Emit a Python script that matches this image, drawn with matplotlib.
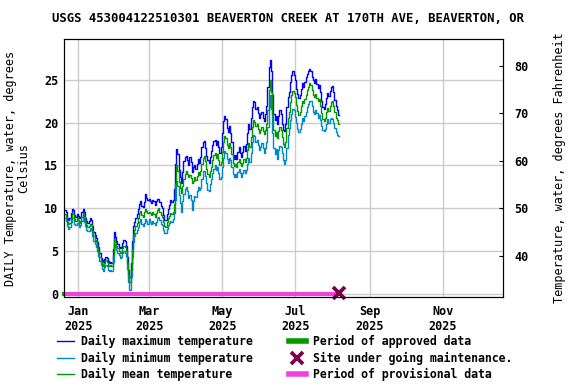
import matplotlib
matplotlib.use('Agg')
import matplotlib.pyplot as plt
import numpy as np
import pandas as pd
from matplotlib.lines import Line2D

plt.rcParams['font.family'] = ['DejaVu Sans Mono']
plt.rcParams['font.weight'] = 'bold'

# Daily water temperature (deg C), Dec 21 2024 .. Aug 6 2025
mean_dec = [9.3, 9.0, 8.4, 8.1, 8.3, 8.9, 9.4, 9.3, 8.7, 8.5, 8.8]
mean_jan = [8.6, 8.3, 8.5, 9.0, 9.4, 9.0, 8.4, 8.0, 7.8, 7.9, 8.2, 8.0, 7.3, 6.7, 6.3, 6.0,
            5.5, 4.9, 4.3, 3.8, 3.5, 3.2, 3.6, 3.9, 3.7, 3.3, 3.2, 3.3, 3.2, 4.5, 6.4]
mean_feb = [6.0, 5.6, 5.3, 5.0, 4.8, 4.9, 5.3, 5.6, 5.4, 5.0, 3.6, 2.2, 1.3, 2.8, 5.2, 6.8,
            7.5, 7.9, 8.3, 8.8, 9.4, 9.7, 9.2, 9.0, 9.5, 9.9, 9.7, 9.4]
mean_mar = [9.6, 9.4, 9.2, 9.5, 9.3, 9.0, 9.4, 9.8, 10.0, 9.6, 9.2, 9.0, 8.4, 7.9, 7.8, 8.4,
            8.8, 9.1, 9.4, 9.3, 9.6, 10.5, 12.8, 15.0, 14.4, 13.1, 12.4, 11.8, 12.6, 13.4, 14.0]
mean_apr = [14.4, 14.0, 13.6, 13.9, 13.5, 12.9, 13.2, 13.6, 13.3, 13.8, 14.2, 13.9, 14.3, 15.2,
            15.9, 16.1, 15.5, 14.6, 14.0, 13.7, 14.3, 14.8, 15.6, 16.2, 16.5, 15.9, 16.3, 15.6,
            15.1, 15.4]
mean_may = [16.6, 17.8, 18.5, 18.2, 17.4, 17.0, 17.6, 17.1, 16.3, 15.3, 14.9, 15.2, 14.8, 15.4,
            15.8, 15.3, 14.9, 15.3, 15.8, 15.4, 15.9, 16.8, 17.6, 17.2, 18.3, 19.5, 20.3, 20.1,
            19.6, 19.9, 19.3]
mean_jun = [18.8, 19.2, 19.5, 19.0, 18.7, 19.2, 19.8, 21.5, 23.8, 25.0, 23.6, 21.0, 19.2, 18.5,
            18.9, 18.2, 19.0, 19.5, 19.2, 18.3, 17.5, 17.2, 17.8, 19.4, 20.6, 21.3, 22.4, 23.2,
            23.7, 23.5]
mean_jul = [23.0, 22.1, 21.4, 20.9, 21.3, 21.9, 22.6, 22.3, 22.8, 23.3, 23.8, 24.2, 24.6, 24.4,
            23.8, 23.3, 23.0, 23.4, 22.9, 22.5, 22.8, 22.0, 21.1, 20.4, 20.2, 20.6, 21.2, 21.7,
            21.4, 21.9, 22.4]
mean_aug = [22.6, 22.0, 21.2, 20.6, 20.3, 19.9]

max_dec = [9.8, 9.5, 8.9, 8.6, 8.8, 9.4, 9.9, 9.8, 9.2, 9.0, 9.3]
max_jan = [9.1, 8.8, 9.0, 9.5, 9.9, 9.6, 8.9, 8.5, 8.3, 8.5, 8.8, 8.6, 7.9, 7.2, 6.8, 6.5,
           6.0, 5.4, 4.8, 4.2, 3.9, 3.7, 4.1, 4.3, 4.2, 3.8, 3.6, 3.7, 3.6, 5.2, 7.2]
max_feb = [6.6, 6.1, 5.8, 5.5, 5.3, 5.5, 5.9, 6.3, 6.1, 5.6, 4.3, 2.8, 1.9, 3.6, 6.2, 7.9,
           8.4, 8.9, 9.3, 9.9, 10.5, 10.8, 10.3, 10.1, 10.7, 11.7, 11.2, 10.9]
max_mar = [11.1, 10.8, 10.6, 11.0, 10.8, 10.4, 10.8, 11.1, 11.1, 10.7, 10.3, 10.0, 9.2, 8.6,
           8.6, 9.3, 9.9, 10.4, 10.9, 10.7, 11.0, 12.2, 15.2, 16.9, 16.3, 14.5, 13.6, 12.9,
           14.2, 15.5, 16.0]
max_apr = [16.1, 15.6, 15.0, 16.0, 15.4, 14.2, 14.8, 15.0, 14.6, 15.2, 15.7, 15.3, 16.0, 17.2,
           17.8, 17.9, 17.0, 16.1, 15.6, 15.3, 16.0, 16.7, 17.4, 17.9, 18.0, 17.4, 17.9, 17.2,
           16.5, 17.1]
max_may = [18.8, 20.2, 20.8, 20.4, 19.4, 18.9, 19.6, 18.8, 17.7, 16.2, 15.7, 16.2, 15.7, 16.6,
           17.1, 16.5, 16.0, 16.6, 17.3, 16.7, 17.5, 18.8, 19.9, 19.3, 20.6, 21.8, 22.6, 22.4,
           21.6, 21.8, 21.1]
max_jun = [20.5, 21.0, 21.3, 20.6, 20.2, 21.0, 22.0, 24.2, 26.5, 27.4, 26.0, 23.2, 21.0, 20.3,
           20.8, 19.9, 20.8, 21.5, 21.0, 19.9, 19.2, 19.0, 19.8, 21.8, 23.0, 23.6, 24.8, 25.6,
           26.0, 25.6]
max_jul = [25.0, 24.0, 23.4, 22.9, 23.3, 23.9, 24.6, 24.2, 24.8, 25.3, 25.7, 26.0, 26.3, 26.1,
           25.4, 25.0, 24.6, 25.1, 24.5, 24.1, 24.4, 23.6, 22.6, 21.8, 21.6, 22.2, 22.9, 23.5,
           23.1, 23.7, 24.2]
max_aug = [24.3, 23.6, 22.7, 21.9, 21.5, 20.9]

min_dec = [8.8, 8.5, 7.9, 7.6, 7.8, 8.4, 8.9, 8.8, 8.2, 8.0, 8.3]
min_jan = [8.1, 7.8, 8.0, 8.5, 8.9, 8.4, 7.9, 7.5, 7.3, 7.3, 7.7, 7.4, 6.7, 6.1, 5.8, 5.5,
           5.0, 4.4, 3.8, 3.3, 2.9, 2.7, 3.1, 3.4, 3.2, 2.8, 2.6, 2.8, 2.7, 3.7, 5.8]
min_feb = [5.4, 5.1, 4.7, 4.5, 4.2, 4.3, 4.7, 5.0, 4.8, 4.4, 2.9, 1.4, 0.4, 1.9, 4.3, 6.0,
           6.7, 7.1, 7.5, 7.8, 8.4, 8.7, 8.2, 7.9, 8.3, 8.7, 8.5, 8.2]
min_mar = [8.7, 8.4, 8.2, 8.5, 8.3, 8.0, 8.4, 8.8, 9.0, 8.6, 8.2, 8.0, 7.5, 7.1, 7.1, 7.6,
           8.0, 8.3, 8.5, 8.4, 8.7, 9.4, 11.0, 13.2, 12.6, 11.5, 10.6, 9.5, 10.8, 11.6, 12.2]
min_apr = [12.5, 12.0, 11.2, 11.5, 11.0, 9.8, 10.8, 11.4, 11.3, 12.0, 12.5, 12.1, 12.4, 13.4,
           14.3, 14.4, 13.8, 12.9, 12.1, 12.0, 12.8, 13.4, 14.1, 14.6, 15.1, 14.5, 14.8, 14.1,
           13.4, 13.6]
min_may = [14.8, 15.9, 16.7, 16.4, 15.8, 15.3, 15.9, 15.6, 14.8, 14.0, 13.7, 14.0, 13.6, 14.2,
           14.6, 14.1, 13.7, 14.1, 14.5, 14.1, 14.5, 15.2, 15.9, 15.4, 16.5, 17.7, 18.6, 18.5,
           17.7, 18.0, 17.4]
min_jun = [16.8, 17.2, 17.6, 17.0, 16.4, 17.0, 17.7, 19.5, 21.8, 23.3, 21.6, 18.8, 17.0, 16.3,
           16.9, 15.7, 16.8, 17.3, 17.2, 16.4, 15.6, 15.2, 15.6, 17.0, 18.6, 19.4, 20.3, 21.0,
           21.6, 21.5]
min_jul = [20.7, 20.0, 19.3, 18.9, 19.3, 19.8, 20.5, 20.2, 20.8, 21.3, 21.8, 22.2, 22.6, 22.5,
           21.9, 21.3, 21.0, 21.5, 21.1, 20.5, 20.9, 20.3, 19.6, 19.1, 19.0, 19.3, 19.9, 20.4,
           20.0, 20.4, 20.6]
min_aug = [20.4, 20.0, 19.4, 18.9, 18.6, 18.5]

mean_c = mean_dec + mean_jan + mean_feb + mean_mar + mean_apr + mean_may + mean_jun + mean_jul + mean_aug
max_c = max_dec + max_jan + max_feb + max_mar + max_apr + max_may + max_jun + max_jul + max_aug
min_c = min_dec + min_jan + min_feb + min_mar + min_apr + min_may + min_jun + min_jul + min_aug

start = pd.Timestamp('2024-12-21')
dates = pd.date_range(start, periods=len(mean_c), freq='D')
last_day = dates[-1]

tick_dates = pd.to_datetime(['2025-01-01', '2025-03-01', '2025-05-01',
                             '2025-07-01', '2025-09-01', '2025-11-01'])
tick_labels = ['Jan\n2025', 'Mar\n2025', 'May\n2025', 'Jul\n2025', 'Sep\n2025', 'Nov\n2025']

c_max = '#0000ff'
c_min = '#0088cc'
c_mean = '#009900'
c_prov = '#ee44dd'
c_maint = '#7a0048'

fig = plt.figure(figsize=(5.76, 3.84), dpi=100)
ax = fig.add_axes([64 / 576, 1 - 297 / 384, (503 - 64) / 576, (297 - 39) / 384])
ax.set_axisbelow(True)
ax.grid(color='#cccccc', lw=1)

ax.plot(dates, max_c, color=c_max, lw=1, drawstyle='steps-mid')
ax.plot(dates, min_c, color=c_min, lw=1, drawstyle='steps-mid')
ax.plot(dates, mean_c, color=c_mean, lw=1, drawstyle='steps-mid')

# provisional / approved periods and maintenance marker
ax.plot([pd.Timestamp('2024-12-19'), last_day], [0, 0], color=c_prov, lw=3, solid_capstyle='butt')
ax.plot([pd.Timestamp('2024-12-18'), pd.Timestamp('2024-12-20')], [0, 0], color=c_mean, lw=3,
        solid_capstyle='butt', clip_on=False)
ax.plot([last_day], [0.1], marker='x', color=c_maint, ms=8, mew=2.7, clip_on=False)

ax.set_xlim(pd.Timestamp('2024-12-20'), pd.Timestamp('2025-12-21'))
ax.set_ylim(-0.4, 29.8)
ax.set_xticks(tick_dates)
ax.set_xticklabels(tick_labels, fontsize=8.5)
ax.set_yticks([0, 5, 10, 15, 20, 25])
ax.tick_params(axis='x', length=0, pad=6)
ax.tick_params(axis='y', length=0, labelsize=8.5, pad=4)
ax.set_ylabel('DAILY Temperature, water, degrees\nCelsius', fontsize=8.5, labelpad=10,
              linespacing=1.0)

ax2 = ax.twinx()
lo, hi = ax.get_ylim()
ax2.set_ylim(lo * 9 / 5 + 32, hi * 9 / 5 + 32)
ax2.set_yticks([40, 50, 60, 70, 80])
ax2.tick_params(axis='y', direction='in', length=3, labelsize=8.5, pad=8)
ax2.set_ylabel('Temperature, water, degrees Fahrenheit', fontsize=8.5, labelpad=18)

fig.text(0.5, 1 - 19 / 384, 'USGS 453004122510301 BEAVERTON CREEK AT 170TH AVE, BEAVERTON, OR',
         ha='center', va='center', fontsize=8.8, fontweight='bold')

handles = [
    Line2D([], [], color=c_max, lw=1),
    Line2D([], [], color=c_min, lw=1),
    Line2D([], [], color=c_mean, lw=1),
    Line2D([], [], color=c_mean, lw=4),
    Line2D([], [], color=c_maint, marker='x', ls='none', ms=8, mew=2.7),
    Line2D([], [], color=c_prov, lw=4),
]
labels = ['Daily maximum temperature', 'Daily minimum temperature', 'Daily mean temperature',
          'Period of approved data', 'Site under going maintenance.', 'Period of provisional data']
fig.legend(handles, labels, ncol=2, loc='upper left', bbox_to_anchor=(57 / 576, 1 - 335 / 384),
           frameon=False, fontsize=8.3, handlelength=1.5, handletextpad=0.6,
           columnspacing=3.1, labelspacing=0.3, borderaxespad=0, borderpad=0)

fig.savefig('out.png', dpi=100)
